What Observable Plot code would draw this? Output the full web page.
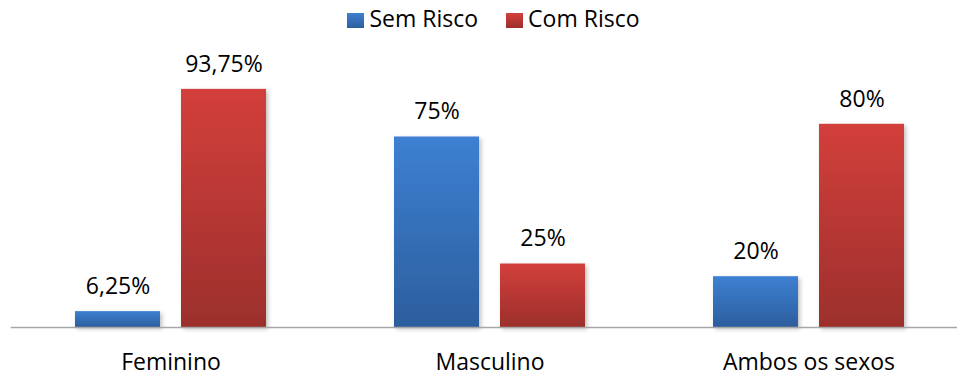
<!DOCTYPE html>
<html><head><meta charset="utf-8">
<script src="https://cdn.jsdelivr.net/npm/d3@7"></script>
<script src="https://cdn.jsdelivr.net/npm/@observablehq/plot@0.6"></script>
<style>
body{margin:0;background:#fff;font-family:"Open Sans",sans-serif;}
#legend{height:36px;box-sizing:border-box;padding-top:3px;padding-left:30px;display:flex;justify-content:center;align-items:flex-start;font-size:23px;line-height:30px;color:#000;}
.item{display:flex;align-items:flex-start;margin:0 14px;}
.sw{width:17px;height:15px;margin-top:10px;margin-right:5px;}
</style></head>
<body>
<div id="legend"></div>
<div id="chart"></div>
<script>
const groups = ["Feminino", "Masculino", "Ambos os sexos"];
const series = ["Sem Risco", "Com Risco"];
const semRisco = [6.25, 75, 20];
const comRisco = [93.75, 25, 80];

const data = [];
groups.forEach((g, i) => {
  data.push({group: g, series: series[0], value: semRisco[i]});
  data.push({group: g, series: series[1], value: comRisco[i]});
});
const fmt = v => String(v).replace(".", ",") + "%";

const grads = {"Sem Risco": ["gb", "#3d80d2", "#2c5e9e"], "Com Risco": ["gr", "#d33f3b", "#9c2f2c"]};

const legend = document.getElementById("legend");
series.forEach(s => {
  const it = document.createElement("div"); it.className = "item";
  const sw = document.createElement("div"); sw.className = "sw";
  sw.style.background = `linear-gradient(${grads[s][1]}, ${grads[s][2]})`;
  const t = document.createElement("span"); t.textContent = s;
  it.appendChild(sw); it.appendChild(t); legend.appendChild(it);
});

const chart = Plot.plot({
  width: 957,
  height: 340,
  marginTop: 37,
  marginBottom: 49,
  marginLeft: 11,
  marginRight: 10,
  style: {fontFamily: "Open Sans", fontSize: "23px", color: "#000", background: "#fff"},
  fx: {domain: groups, range: [10.8, 968.8], padding: 0, label: null, tickSize: 0, tickPadding: 26, axis: "bottom"},
  x: {domain: series, paddingInner: 0.196, paddingOuter: 0.59, axis: null},
  y: {domain: [0, 100], axis: null},
  color: {domain: series, range: ["url(#gb)", "url(#gr)"]},
  marks: [
    Plot.barY(data, {fx: "group", x: "series", y: "value", fill: "series"}),
    Plot.text(data, {fx: "group", x: "series", y: "value", text: d => fmt(d.value), dy: -25, fill: "#000", fontSize: 23}),
    Plot.frame({anchor: "bottom", stroke: "#a6a6a6", strokeWidth: 1.5, facet: "super"})
  ]
});
document.getElementById("chart").appendChild(chart);

const svg = d3.select(chart);
const defs = svg.insert("defs", ":first-child");
Object.values(grads).forEach(([id, c1, c2]) => {
  const lg = defs.append("linearGradient").attr("id", id).attr("x1", 0).attr("y1", 0).attr("x2", 0).attr("y2", 1);
  lg.append("stop").attr("offset", "0%").attr("stop-color", c1);
  lg.append("stop").attr("offset", "100%").attr("stop-color", c2);
});
const f = defs.append("filter").attr("id", "shadow").attr("x", "-20%").attr("y", "-20%").attr("width", "150%").attr("height", "150%");
f.append("feDropShadow").attr("dx", 2).attr("dy", 2).attr("stdDeviation", 2).attr("flood-color", "#000").attr("flood-opacity", 0.25);
svg.selectAll("g[aria-label='bar'] rect").attr("filter", "url(#shadow)");
</script>
</body></html>
